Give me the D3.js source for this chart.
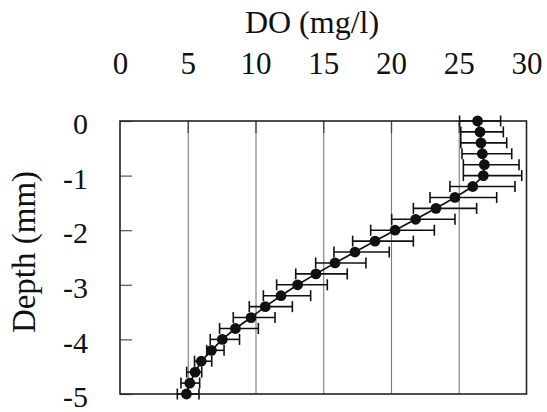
<!DOCTYPE html>
<html>
<head>
<meta charset="utf-8">
<script src="https://cdn.jsdelivr.net/npm/d3@7/dist/d3.min.js"></script>
<style>
  html, body { margin: 0; padding: 0; background: #fff; }
  svg { display: block; }
  text { font-family: "Liberation Serif", "Times New Roman", serif; fill: #111; }
</style>
</head>
<body>
<svg id="chart" width="547" height="412"></svg>
<script>
// ---- data ----
const depth   = [0, -0.2, -0.4, -0.6, -0.8, -1.0, -1.2, -1.4, -1.6, -1.8, -2.0, -2.2, -2.4,
                 -2.6, -2.8, -3.0, -3.2, -3.4, -3.6, -3.8, -4.0, -4.2, -4.4, -4.6, -4.8, -5.0];
const doMean  = [26.39, 26.57, 26.64, 26.74, 26.89, 26.81, 26.03, 24.72, 23.32, 21.82, 20.30, 18.82, 17.34,
                 15.87, 14.46, 13.11, 11.88, 10.72, 9.67, 8.52, 7.55, 6.75, 6.00, 5.54, 5.15, 4.90];
const doLower = [25.06, 25.15, 25.15, 25.24, 25.34, 25.34, 24.35, 22.88, 21.65, 20.05, 18.50, 17.17, 15.79,
                 14.44, 12.97, 11.56, 10.58, 9.54, 8.36, 7.35, 6.66, 6.40, 5.50, 4.92, 4.50, 4.23];
const doUpper = [28.09, 28.29, 28.54, 28.91, 29.45, 29.65, 29.15, 27.80, 26.32, 24.72, 23.20, 21.65, 19.87,
                 18.15, 16.77, 15.30, 14.07, 12.72, 11.44, 10.21, 8.82, 7.68, 6.77, 6.03, 5.88, 5.83];
const xTicks   = [0, 5, 10, 15, 20, 25, 30];
const xGrid    = [5, 10, 15, 20, 25];
const yTicks   = [0, -1, -2, -3, -4, -5];
const xTitle = "DO (mg/l)";
const yTitle = "Depth (mm)";

// ---- layout ----
const L = 120, R = 526.5, T = 121, B = 394;
const svg = d3.select("#chart");
const x = d3.scaleLinear().domain([0, 30]).range([L, R]);
const y = d3.scaleLinear().domain([0, -5]).range([T, B]);
const fmt = d => String(d);   // plain hyphen-minus, as in the reference

// gridlines
const gridG = svg.append("g").attr("transform", `translate(0,${T})`)
  .call(d3.axisBottom(x).tickValues(xGrid).tickSize(B - T).tickFormat(""));
gridG.select(".domain").remove();
gridG.selectAll("line").attr("stroke", "#7a7a7a").attr("stroke-width", 1.1);

// short inside ticks under the top edge
const topTickG = svg.append("g").attr("transform", `translate(0,${T})`)
  .call(d3.axisBottom(x).tickValues(xGrid).tickSize(12).tickFormat(""));
topTickG.select(".domain").remove();
topTickG.selectAll("line").attr("stroke", "#444").attr("stroke-width", 1.3);

// top axis labels
const topAxisG = svg.append("g").attr("transform", `translate(0,${T})`)
  .call(d3.axisTop(x).tickValues(xTicks).tickSize(0).tickPadding(47).tickFormat(fmt));
topAxisG.select(".domain").remove();
topAxisG.selectAll("text").attr("font-size", 31).attr("fill", "#111");

// left axis
const leftAxisG = svg.append("g").attr("transform", `translate(${L},0)`)
  .call(d3.axisLeft(y).tickValues(yTicks).tickSize(-12).tickPadding(32).tickFormat(fmt));
leftAxisG.select(".domain").remove();
leftAxisG.selectAll("line").attr("stroke", "#555").attr("stroke-width", 1.2);
leftAxisG.selectAll("text").attr("font-size", 30).attr("fill", "#111").attr("dy", "0.42em");

// frame
svg.append("rect").attr("x", L).attr("y", T).attr("width", R - L).attr("height", B - T)
  .attr("fill", "none").attr("stroke", "#222").attr("stroke-width", 1.6);

// titles
svg.append("text").attr("x", 312).attr("y", 33).attr("text-anchor", "middle")
  .attr("font-size", 32).text(xTitle);
svg.append("text").attr("transform", "translate(35,252) rotate(-90)")
  .attr("text-anchor", "middle").attr("font-size", 33).text(yTitle);

// data
const data = depth.map((d, i) => ({ d, m: doMean[i], lo: doLower[i], hi: doUpper[i] }));
const g = svg.append("g");
const cap = 5.5;
g.selectAll("line.eb").data(data).join("line").attr("class", "eb")
  .attr("x1", p => x(p.lo)).attr("x2", p => x(p.hi))
  .attr("y1", p => y(p.d)).attr("y2", p => y(p.d))
  .attr("stroke", "#111").attr("stroke-width", 1.6);
g.selectAll("line.capl").data(data).join("line").attr("class", "capl")
  .attr("x1", p => x(p.lo)).attr("x2", p => x(p.lo))
  .attr("y1", p => y(p.d) - cap).attr("y2", p => y(p.d) + cap)
  .attr("stroke", "#111").attr("stroke-width", 1.6);
g.selectAll("line.caph").data(data).join("line").attr("class", "caph")
  .attr("x1", p => x(p.hi)).attr("x2", p => x(p.hi))
  .attr("y1", p => y(p.d) - cap).attr("y2", p => y(p.d) + cap)
  .attr("stroke", "#111").attr("stroke-width", 1.6);

g.append("path").datum(data)
  .attr("d", d3.line().x(p => x(p.m)).y(p => y(p.d)))
  .attr("fill", "none").attr("stroke", "#111").attr("stroke-width", 1.7);

g.selectAll("circle").data(data).join("circle")
  .attr("cx", p => x(p.m)).attr("cy", p => y(p.d)).attr("r", 5.4)
  .attr("fill", "#111");
</script>
</body>
</html>
